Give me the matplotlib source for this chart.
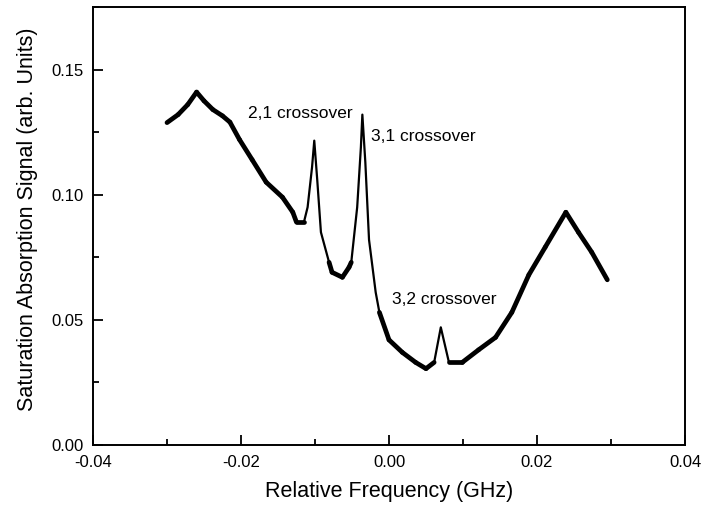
import matplotlib
matplotlib.use("Agg")
import matplotlib.pyplot as plt
import numpy as np
from matplotlib.ticker import MultipleLocator

plt.rcParams['font.family'] = ['Liberation Sans', 'DejaVu Sans']

# saturation absorption trace
freq = [-0.0300, -0.0285, -0.0272, -0.0260, -0.0250, -0.0238, -0.0225, -0.0215,
        -0.0202, -0.0185, -0.0166, -0.0144, -0.0130, -0.0125, -0.0115, -0.0110,
        -0.0104, -0.0101, -0.0097, -0.0092, -0.0081, -0.0077, -0.0063, -0.0054,
        -0.0051, -0.0043, -0.0038, -0.0036, -0.0032, -0.0027, -0.0018, -0.0013,
        0.0000, 0.0018, 0.0036, 0.0050, 0.0061, 0.0070, 0.0081, 0.0099,
        0.0121, 0.0144, 0.0166, 0.0189, 0.0211, 0.0239, 0.0256, 0.0274, 0.0295]
signal = [0.1288, 0.1320, 0.1360, 0.1410, 0.1375, 0.1340, 0.1315, 0.1290,
          0.1220, 0.1140, 0.1050, 0.0990, 0.0930, 0.0890, 0.0890, 0.0950,
          0.1110, 0.1216, 0.1060, 0.0850, 0.0730, 0.0690, 0.0670, 0.0710,
          0.0730, 0.0950, 0.1190, 0.1320, 0.1130, 0.0820, 0.0610, 0.0530,
          0.0420, 0.0370, 0.0330, 0.0305, 0.0330, 0.0470, 0.0330, 0.0330,
          0.0380, 0.0430, 0.0530, 0.0680, 0.0790, 0.0930, 0.0850, 0.0770, 0.0660]

labels = ["2,1 crossover", "3,1 crossover", "3,2 crossover"]
label_x = [-0.0191, -0.0024, 0.0004]
label_y = [0.1324, 0.1232, 0.0580]

x = np.array(freq)
y = np.array(signal)
seg = np.abs(np.diff(y) / np.diff(x))

fig = plt.figure(figsize=(7.03, 5.11), dpi=100)
ax = fig.add_axes([0.1323, 0.1292, 0.8421, 0.8571])
ax.plot(x, y, color='black', lw=1.6)
# thick trace where the signal is slow, thin through the sharp peaks
for i in np.where(seg < 10.5)[0]:
    ax.plot(x[i:i + 2], y[i:i + 2], color='black', lw=3.4, solid_capstyle='round')

for t, tx, ty in zip(labels, label_x, label_y):
    ax.text(tx, ty, t, fontsize=12.5, va='center', ha='left')

ax.set_xlim(-0.04, 0.04)
ax.set_ylim(0, 0.175)
ax.xaxis.set_major_locator(MultipleLocator(0.02))
ax.xaxis.set_minor_locator(MultipleLocator(0.01))
ax.yaxis.set_major_locator(MultipleLocator(0.05))
ax.yaxis.set_minor_locator(MultipleLocator(0.025))
ax.xaxis.set_major_formatter(plt.FormatStrFormatter('%.2f'))
ax.yaxis.set_major_formatter(plt.FormatStrFormatter('%.2f'))
ax.tick_params(which='both', direction='in', labelsize=12, width=1.3, pad=7)
ax.tick_params(which='major', length=7)
ax.tick_params(which='minor', length=4)
for s in ax.spines.values():
    s.set_linewidth(1.4)

ax.set_xlabel("Relative Frequency (GHz)", fontsize=15.5, labelpad=8)
ax.set_ylabel("Saturation Absorption Signal (arb. Units)", fontsize=15.5)
ax.yaxis.set_label_coords(-0.093, 0.516)

fig.savefig("out.png", dpi=100)
